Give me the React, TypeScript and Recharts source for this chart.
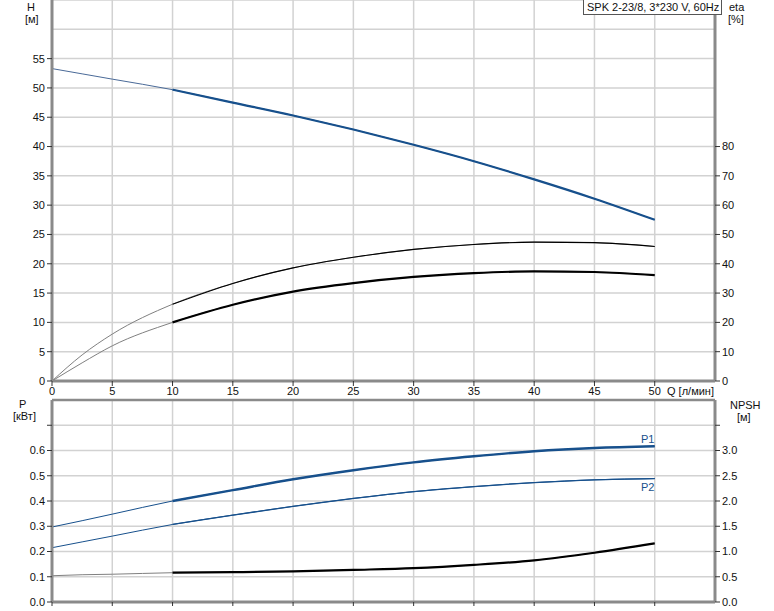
import React from 'react';
import { ComposedChart, Line, XAxis, YAxis, CartesianGrid, ReferenceLine } from 'recharts';

// Q [л/мин]
const flow = [0, 2.5, 5, 10, 15, 20, 25, 30, 35, 40, 45, 50];
// H [м]
const head = [53.3, 52.4, 51.5, 49.7, 47.5, 45.3, 42.9, 40.3, 37.5, 34.4, 31.1, 27.5];
// eta [%]
const etaUpper = [0, 8.9, 16, 26.2, 33.3, 38.6, 42.2, 44.9, 46.6, 47.4, 47.2, 45.9];
const etaLower = [0, 6.2, 12, 20, 26, 30.5, 33.4, 35.5, 36.8, 37.4, 37.2, 36.1];
// P [кВт]
const powerP1 = [0.297, 0.322, 0.348, 0.4, 0.443, 0.486, 0.522, 0.553, 0.577, 0.597, 0.61, 0.617];
const powerP2 = [0.215, 0.238, 0.261, 0.307, 0.344, 0.379, 0.41, 0.437, 0.457, 0.473, 0.484, 0.489];
// NPSH [м]
const npsh = [0.52, 0.54, 0.55, 0.58, 0.59, 0.605, 0.635, 0.67, 0.735, 0.825, 0.975, 1.16];

const qTicks = [0, 5, 10, 15, 20, 25, 30, 35, 40, 45, 50];
const qGrid = [0, 5, 10, 15, 20, 25, 30, 35, 40, 45, 50, 55];
const hTicks = [0, 5, 10, 15, 20, 25, 30, 35, 40, 45, 50, 55];
const hGrid = [0, 5, 10, 15, 20, 25, 30, 35, 40, 45, 50, 55, 60, 65];
const etaTicks = [0, 10, 20, 30, 40, 50, 60, 70, 80];
const pTicks = [0, 0.1, 0.2, 0.3, 0.4, 0.5, 0.6, 0.7];
const pGrid = [0, 0.1, 0.2, 0.3, 0.4, 0.5, 0.6, 0.7, 0.8];
const npshTicks = [0, 0.5, 1, 1.5, 2, 2.5, 3, 3.5];

const MAIN_FROM = 10;
const BLUE = '#17508c';
const FONT = '"Liberation Sans", Arial, sans-serif';

const topData = flow.map((q, i) => ({
    q,
    head: head[i],
    headMain: q >= MAIN_FROM ? head[i] : null,
    etaUpper: etaUpper[i],
    etaUpperMain: q >= MAIN_FROM ? etaUpper[i] : null,
    etaLower: etaLower[i],
    etaLowerMain: q >= MAIN_FROM ? etaLower[i] : null,
}));

const bottomData = flow.map((q, i) => ({
    q,
    p1: powerP1[i],
    p1Main: q >= MAIN_FROM ? powerP1[i] : null,
    p2: powerP2[i],
    p2Main: q >= MAIN_FROM ? powerP2[i] : null,
    npsh: npsh[i],
    npshMain: q >= MAIN_FROM ? npsh[i] : null,
}));

const tickStyle = { fill: '#111', fontSize: 11, fontFamily: FONT };
const axisLine = { stroke: '#8a8a8a', strokeWidth: 3 };
const tickLine = { stroke: '#333', strokeWidth: 1 };

const label = (text: string, left: number, top: number, extra: React.CSSProperties = {}) => (
    <div style={{ position: 'absolute', left, top, fontSize: 11, fontFamily: FONT, color: '#111', lineHeight: '12px', ...extra }}>
        {text}
    </div>
);

export default function App() {
    return (
        <div style={{ position: 'absolute', left: 0, top: 0, width: 774, height: 611, background: '#fff', overflow: 'hidden' }}>
            <div style={{ position: 'absolute', left: 0, top: 0 }}>
                <ComposedChart width={774} height={400} data={topData} margin={{ top: 0, right: 0, bottom: 0, left: 0 }}>
                    <CartesianGrid stroke="#d2d2d2" strokeWidth={1.5} horizontalValues={hGrid} verticalValues={qGrid} />
                    <XAxis
                        type="number"
                        dataKey="q"
                        domain={[0, 55]}
                        ticks={qTicks}
                        height={19}
                        tickSize={5}
                        tickMargin={1}
                        axisLine={axisLine}
                        tickLine={tickLine}
                        tick={tickStyle}
                        interval={0}
                    />
                    <YAxis
                        type="number"
                        domain={[0, 65]}
                        ticks={hTicks}
                        width={52}
                        tickSize={5}
                        tickMargin={2}
                        axisLine={axisLine}
                        tickLine={tickLine}
                        tick={tickStyle}
                        interval={0}
                    />
                    <YAxis
                        yAxisId="eta"
                        orientation="right"
                        type="number"
                        domain={[0, 130]}
                        ticks={etaTicks}
                        width={59}
                        tickSize={5}
                        tickMargin={2}
                        axisLine={axisLine}
                        tickLine={tickLine}
                        tick={tickStyle}
                        interval={0}
                    />
                    <Line dataKey="head" type="monotone" stroke="#4a6a98" strokeWidth={1} dot={false} isAnimationActive={false} />
                    <Line dataKey="headMain" type="monotone" stroke={BLUE} strokeWidth={2.2} dot={false} isAnimationActive={false} />
                    <Line yAxisId="eta" dataKey="etaUpper" type="monotone" stroke="#808080" strokeWidth={1} dot={false} isAnimationActive={false} />
                    <Line yAxisId="eta" dataKey="etaUpperMain" type="monotone" stroke="#000" strokeWidth={1.1} dot={false} isAnimationActive={false} />
                    <Line yAxisId="eta" dataKey="etaLower" type="monotone" stroke="#808080" strokeWidth={1} dot={false} isAnimationActive={false} />
                    <Line yAxisId="eta" dataKey="etaLowerMain" type="monotone" stroke="#000" strokeWidth={2.2} dot={false} isAnimationActive={false} />
                </ComposedChart>
            </div>

            <div style={{ position: 'absolute', left: 0, top: 396 }}>
                <ComposedChart width={774} height={215} data={bottomData} margin={{ top: 4, right: 0, bottom: 0, left: 0 }}>
                    <CartesianGrid stroke="#d2d2d2" strokeWidth={1.5} horizontalValues={pGrid} verticalValues={qGrid} />
                    <XAxis
                        type="number"
                        dataKey="q"
                        domain={[0, 55]}
                        ticks={qTicks}
                        height={9}
                        tickSize={4}
                        axisLine={axisLine}
                        tickLine={tickLine}
                        tickFormatter={() => ''}
                        interval={0}
                    />
                    <YAxis
                        type="number"
                        domain={[0, 0.8]}
                        ticks={pTicks}
                        width={52}
                        tickSize={5}
                        tickMargin={2}
                        axisLine={axisLine}
                        tickLine={tickLine}
                        tick={tickStyle}
                        tickFormatter={(v: number) => (v >= 0.65 ? '' : v.toFixed(1))}
                        interval={0}
                    />
                    <YAxis
                        yAxisId="npsh"
                        orientation="right"
                        type="number"
                        domain={[0, 4]}
                        ticks={npshTicks}
                        width={59}
                        tickSize={5}
                        tickMargin={2}
                        axisLine={axisLine}
                        tickLine={tickLine}
                        tick={tickStyle}
                        tickFormatter={(v: number) => (v >= 3.25 ? '' : v.toFixed(1))}
                        interval={0}
                    />
                    <ReferenceLine y={0.8} stroke="#8a8a8a" strokeWidth={2.5} />
                    <Line dataKey="p1" type="monotone" stroke={BLUE} strokeWidth={1} dot={false} isAnimationActive={false} />
                    <Line dataKey="p1Main" type="monotone" stroke={BLUE} strokeWidth={2.4} dot={false} isAnimationActive={false} />
                    <Line dataKey="p2" type="monotone" stroke={BLUE} strokeWidth={1} dot={false} isAnimationActive={false} />
                    <Line dataKey="p2Main" type="monotone" stroke={BLUE} strokeWidth={1.3} dot={false} isAnimationActive={false} />
                    <Line yAxisId="npsh" dataKey="npsh" type="monotone" stroke="#808080" strokeWidth={1} dot={false} isAnimationActive={false} />
                    <Line yAxisId="npsh" dataKey="npshMain" type="monotone" stroke="#000" strokeWidth={2.2} dot={false} isAnimationActive={false} />
                </ComposedChart>
            </div>

            {label('H', 27, 1)}
            {label('[м]', 25, 13)}
            {label('eta', 729, 1)}
            {label('[%]', 728, 13)}
            {label('Q [л/мин]', 667, 385)}
            {label('P', 19, 398)}
            {label('[кВт]', 13, 410)}
            {label('NPSH', 730, 399)}
            {label('[м]', 737, 411)}
            {label('P1', 641, 433, { color: BLUE })}
            {label('P2', 641, 481, { color: BLUE })}
            <div
                style={{
                    position: 'absolute',
                    left: 583,
                    top: 0,
                    height: 14,
                    padding: '0 2px 0 3px',
                    border: '1px solid #555',
                    borderTop: 'none',
                    background: '#fff',
                    fontSize: 11,
                    fontFamily: FONT,
                    lineHeight: '14px',
                    color: '#111',
                    whiteSpace: 'nowrap',
                }}
            >
                SPK 2-23/8, 3*230 V, 60Hz
            </div>
        </div>
    );
}
